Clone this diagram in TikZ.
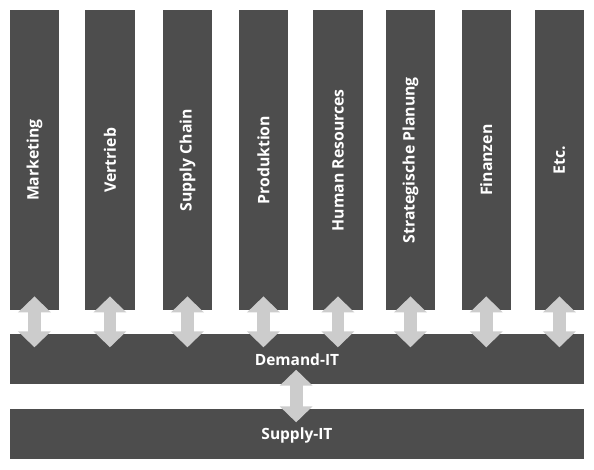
\documentclass[tikz,border=0pt]{standalone}
\usepackage{fontspec}
\setmainfont{Open Sans}
\usetikzlibrary{arrows.meta}
\definecolor{barc}{HTML}{4D4D4D}
\definecolor{arrc}{HTML}{CCCCCC}
\tikzset{
  col/.style={fill=barc, draw=none, minimum width=49.5pt, minimum height=300pt, inner sep=0pt, anchor=north west},
  bar/.style={fill=barc, draw=none, minimum width=574.5pt, minimum height=50pt, inner sep=0pt, anchor=north west},
  lbl/.style={text=white, font=\bfseries\fontsize{15.5}{17}\selectfont, inner sep=0pt},
  vlbl/.style={lbl, font=\bfseries\fontsize{15.8}{18}\selectfont, rotate=90},
  dbl/.style={draw=arrc, line width=12.7pt, {Triangle[width=32pt,length=16pt]}-{Triangle[width=32pt,length=16pt]}, shorten <=-14pt, shorten >=-14pt}
}
\begin{document}
\begin{tikzpicture}[x=1pt,y=-1pt]
\useasboundingbox (0,0) rectangle (594,469);
\foreach \n/\x/\t in {1/9.5/Marketing, 2/85/Vertrieb, 3/162.5/Supply Chain, 4/238.5/Produktion, 5/313/Human Resources, 6/385.5/Strategische Planung, 7/461.3/Finanzen, 8/534.5/Etc.}{
  \node[col] (c\n) at (\x,10) {};
  \node[vlbl] (t\n) at (c\n.center) {\t};
}
\node[bar] (dem) at (9.5,333.3) {};
\node[lbl] (demt) at ([yshift=-1.2pt]dem.center) {Demand-IT};
\node[bar] (sup) at (9.5,408.3) {};
\node[lbl] (supt) at ([yshift=-1.5pt]sup.center) {Supply-IT};
\foreach \n in {1,...,8}{
  \coordinate (d\n) at (c\n.south |- dem.north);
  \draw[dbl] (c\n.south) -- (d\n);
}
\coordinate (m1) at ([xshift=-0.8pt]dem.south);
\coordinate (m2) at ([xshift=-0.8pt]sup.north);
\draw[dbl] (m1) -- (m2);
\end{tikzpicture}
\end{document}
